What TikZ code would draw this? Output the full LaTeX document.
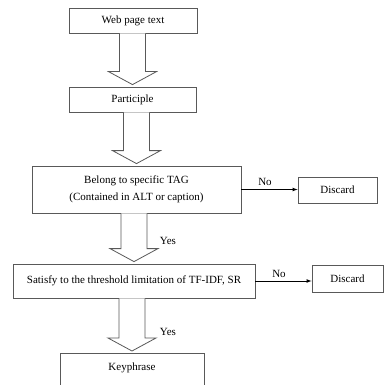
\documentclass[tikz,border=0pt]{standalone}
\usepackage{fontspec}
\setmainfont{Liberation Serif}
\usetikzlibrary{arrows,calc}

% hollow block arrow from the bottom of #1 to the top of #2
\newcommand{\blockarrow}[2]{%
  \draw[fatarrow] ($(#1.south -| #2.north)+(-13,0)$) -- ($(#2.north)+(-13,-15)$)
    -- ($(#2.north)+(-24,-15)$) -- ($(#2.north)+(0,-2)$) -- ($(#2.north)+(24,-15)$)
    -- ($(#2.north)+(13,-15)$) -- ($(#1.south -| #2.north)+(13,0)$);}

\begin{document}
\begin{tikzpicture}[x=1pt,y=-1pt,>=latex,
  box/.style={draw=black!65,line width=0.8pt,inner sep=2pt,
    font=\fontsize{11}{17}\selectfont,align=center},
  fatarrow/.style={draw=black!65,line width=0.8pt,fill=white},
  lbl/.style={font=\fontsize{11}{13}\selectfont}]
  \useasboundingbox (0,0) rectangle (384,385);

  \node[box,minimum width=128pt,minimum height=25pt] (web)  at (133,20.5)  {Web page text};
  \node[box,minimum width=127pt,minimum height=25pt] (part) at (132.5,99.5) {Participle};
  \node[box,minimum width=209pt,minimum height=47pt] (tag)  at (136.5,189.5)
        {Belong to specific TAG\\(Contained in ALT or caption)};
  \node[box,minimum width=79pt,minimum height=26pt]  (dis1) at (337.5,190) {Discard};
  \node[box,minimum width=242pt,minimum height=34pt] (thr)  at (134,281)
        {Satisfy to the threshold limitation of TF-IDF, SR};
  \node[box,minimum width=71pt,minimum height=27pt]  (dis2) at (347.5,278.5) {Discard};
  \node[box,minimum width=144pt,minimum height=36pt,anchor=north] (key) at (132,353)
        {\raisebox{10pt}{Keyphrase}};

  \blockarrow{web}{part}
  \blockarrow{part}{tag}
  \blockarrow{tag}{thr}
  \blockarrow{thr}{key}

  \node[lbl] (yes1) at (168,241) {Yes};
  \node[lbl] (yes2) at (168,332) {Yes};

  \path[->,black,line width=0.7pt]
    (tag.east) edge node[lbl,above,pos=0.42] {No} (tag.east -| dis1.west)
    (thr.east) edge node[lbl,above,pos=0.42] {No} (thr.east -| dis2.west);
\end{tikzpicture}
\end{document}
